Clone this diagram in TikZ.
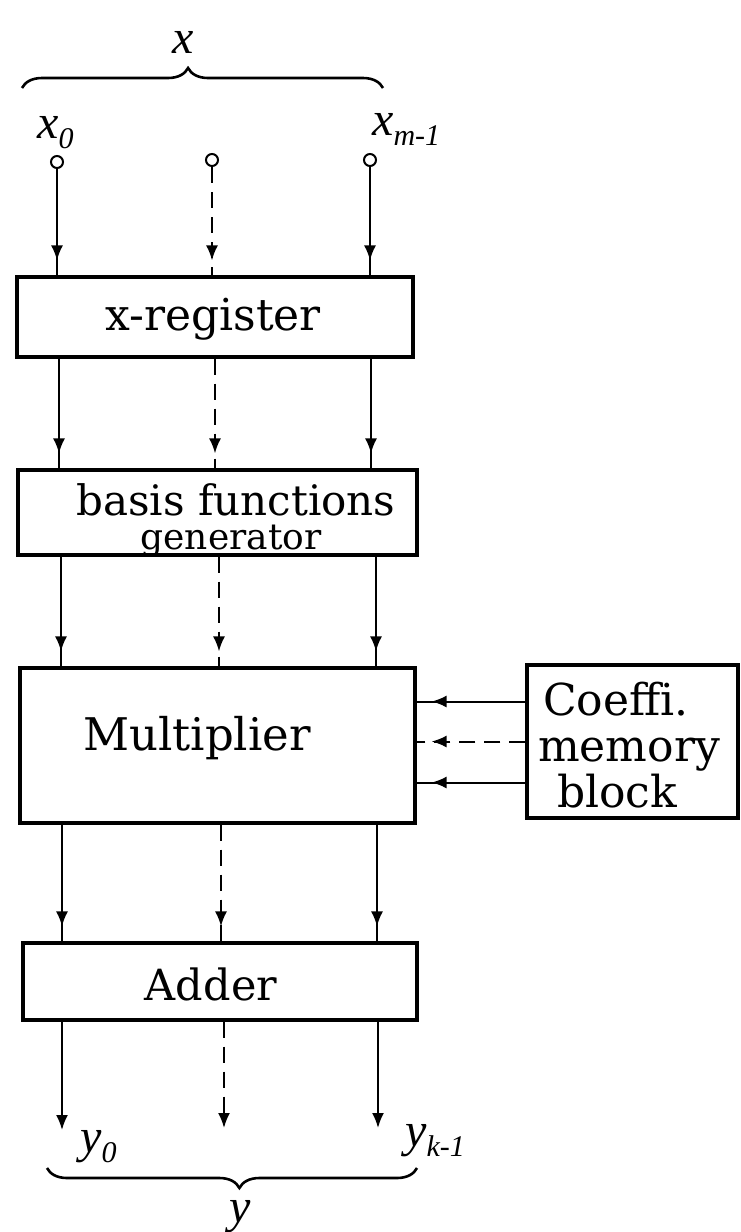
\documentclass[tikz,border=0pt]{standalone}
\usepackage{fontspec}
\setmainfont{DejaVu Serif}
\newfontfamily\labfont{Liberation Serif}
\usetikzlibrary{arrows.meta,decorations.markings,decorations.pathreplacing}
\newcommand{\symlab}[2]{\textit{#1}\raisebox{-0.22em}{\fontsize{30}{30}\selectfont\textit{#2}}}
\begin{document}
\begin{tikzpicture}[x=1pt,y=-1pt,
  box/.style={draw,line width=3.2pt,inner sep=0pt},
  txt/.style={inner sep=0pt,anchor=base},
  conn/.style={line width=2pt,postaction={decorate},
    decoration={markings,mark=at position -15pt with {\arrow{Latex[length=15pt,width=12pt]}}}},
  outarrow/.style={line width=2pt,-{Latex[length=15pt,width=12pt]}},
  dsh/.style={dash pattern=on 16pt off 9pt},
  port/.style={draw,circle,line width=2pt,minimum size=12pt,inner sep=0pt},
  brc/.style={line width=2.6pt,decorate},
  lab/.style={inner sep=0pt,anchor=base west,font=\labfont\fontsize{48}{48}\selectfont}]
\useasboundingbox (0,0) rectangle (741,1232);

% braces
\coordinate (tbL) at (22,88);
\coordinate (tbR) at (383,88);
\draw[brc,decoration={brace,amplitude=20pt,aspect=0.46}] (tbL) -- (tbR);
\node[inner sep=0pt,anchor=base,font=\labfont\fontsize{48}{48}\selectfont] (xlab) at (183,53) {\textit{x}};

% inputs
\node[port] (in0) at (57,162) {};
\node[port] (in1) at (212,160) {};
\node[port] (in2) at (370,160) {};
\node[lab] (x0) at (37,138) {\symlab{x}{0}};
\node[lab] (xm) at (372,135) {\symlab{x}{m-1}};

% boxes
\node[box,minimum width=396pt,minimum height=80pt] (xreg) at (215,317) {};
\node[box,minimum width=399pt,minimum height=85pt] (basis) at (217.5,512.5) {};
\node[box,minimum width=395pt,minimum height=155pt] (mult) at (217.5,745.5) {};
\node[box,minimum width=211pt,minimum height=153pt] (coef) at (632.5,741.5) {};
\node[box,minimum width=394pt,minimum height=77pt] (adder) at (220,981.5) {};

% box texts
\node[txt,font=\fontsize{44}{44}\selectfont] (xregT) at (213,330) {x-register};
\node[txt,font=\fontsize{42}{42}\selectfont] (basT1) at (236,515) {basis functions};
\node[txt,font=\fontsize{36}{36}\selectfont] (basT2) at (231,549) {generator};
\node[txt,font=\fontsize{45}{45}\selectfont] (multT) at (197,750) {Multiplier};
\node[txt,font=\fontsize{43}{43}\selectfont] (addT) at (211,1000) {Adder};
\node[inner sep=0pt,anchor=base west,align=left,font=\fontsize{44}{46}\selectfont] (coefT) at (538,807)
  {\hspace*{5pt}Coeffi.\\memory\\\hspace*{19pt}block};

% column coordinates
\coordinate (r1a) at (59,0);  \coordinate (r1b) at (215,0); \coordinate (r1c) at (371,0);
\coordinate (r2a) at (61,0);  \coordinate (r2b) at (219,0); \coordinate (r2c) at (376,0);
\coordinate (r3a) at (62,0);  \coordinate (r3b) at (221,0); \coordinate (r3c) at (377,0);
\coordinate (o0) at (62,1130); \coordinate (o1) at (224,1128); \coordinate (o2) at (378,1128);

% inputs -> x-register
\draw[conn] (in0) -- (xreg.north -| in0);
\draw[conn,dsh] (in1) -- (xreg.north -| in1);
\draw[conn] (in2) -- (xreg.north -| in2);
% x-register -> basis
\draw[conn] (xreg.south -| r1a) -- (basis.north -| r1a);
\draw[conn,dsh] (xreg.south -| r1b) -- (basis.north -| r1b);
\draw[conn] (xreg.south -| r1c) -- (basis.north -| r1c);
% basis -> multiplier
\draw[conn] (basis.south -| r2a) -- (mult.north -| r2a);
\draw[conn,dsh] (basis.south -| r2b) -- (mult.north -| r2b);
\draw[conn] (basis.south -| r2c) -- (mult.north -| r2c);
% multiplier -> adder
\draw[conn] (mult.south -| r3a) -- (adder.north -| r3a);
\draw[conn,dsh] (mult.south -| r3b) -- (adder.north -| r3b);
\draw[conn] (mult.south -| r3c) -- (adder.north -| r3c);
% adder -> outputs
\draw[outarrow] (adder.south -| o0) -- (o0);
\draw[outarrow,dsh] (adder.south -| o1) -- (o1);
\draw[outarrow] (adder.south -| o2) -- (o2);

% coefficient memory -> multiplier
\coordinate (k1) at ([yshift=40pt]coef.west);
\coordinate (k2) at (coef.west);
\coordinate (k3) at ([yshift=-41pt]coef.west);
\draw[conn] (k1) -- (k1 -| mult.east);
\draw[conn,dsh] (k2) -- (k2 -| mult.east);
\draw[conn] (k3) -- (k3 -| mult.east);

% outputs labels and brace
\node[lab] (y0) at (80,1152) {\symlab{y}{0}};
\node[lab] (yk) at (405,1146) {\symlab{y}{k-1}};
\coordinate (bbR) at (417,1168);
\coordinate (bbL) at (47,1168);
\draw[brc,decoration={brace,amplitude=20pt,aspect=0.48}] (bbR) -- (bbL);
\node[inner sep=0pt,anchor=base,font=\labfont\fontsize{48}{48}\selectfont] (ylab) at (240,1222) {\textit{y}};
\end{tikzpicture}
\end{document}
